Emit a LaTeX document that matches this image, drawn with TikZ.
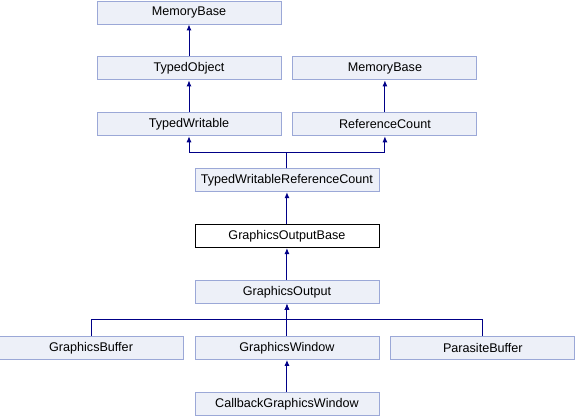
\documentclass[tikz,border=0pt]{standalone}
\usepackage{fontspec}
\setmainfont{Liberation Sans}
\usetikzlibrary{arrows.meta, positioning, calc}
\definecolor{boxfill}{RGB}{237,240,248}
\definecolor{boxline}{RGB}{155,168,215}
\definecolor{edgeblue}{RGB}{0,0,135}

\begin{document}
\begin{tikzpicture}[
  x=1pt, y=1pt,
  node distance=32pt and 11pt,
  cls/.style={draw=boxline, fill=boxfill, line width=0.9pt,
    minimum width=184pt, minimum height=23pt, inner sep=0pt,
    font=\fontsize{12.6}{14}\selectfont},
  focus/.style={cls, draw=black, fill=white},
  arr/.style={-{Latex[length=6pt,width=5pt]}, line width=1pt, edgeblue},
]
  \useasboundingbox (0,0) rectangle (575,-416);

  \node[cls] (mbA) at (189,-12.5) {MemoryBase};
  \node[cls, below=of mbA]  (tobj) {TypedObject};
  \node[cls, right=of tobj] (mbB)  {MemoryBase};
  \node[cls, below=of tobj] (tw)   {TypedWritable};
  \node[cls, below=of mbB]  (rc)   {ReferenceCount};
  \coordinate (mid) at ($(tw.south)!0.5!(rc.south)$);
  \node[cls, below=of mid]  (twrc) {TypedWritableReferenceCount};
  \node[focus, below=of twrc] (gob) {GraphicsOutputBase};
  \node[cls, below=of gob]  (gout) {GraphicsOutput};
  \node[cls, below=of gout] (gwin) {GraphicsWindow};
  \node[cls, left=of gwin]  (gbuf) {GraphicsBuffer};
  \node[cls, right=of gwin] (pbuf) {ParasiteBuffer};
  \node[cls, below=of gwin] (cbwin) {CallbackGraphicsWindow};

  \draw[arr] (tobj) -- (mbA);
  \draw[arr] (tw) -- (tobj);
  \draw[arr] (rc) -- (mbB);
  \draw[arr] (twrc.north) -- ++(0,16) -| (tw.south);
  \draw[arr] (twrc.north) -- ++(0,16) -| (rc.south);
  \draw[arr] (gob) -- (twrc);
  \draw[arr] (gout) -- (gob);
  \draw[arr] (gbuf.north) -- ++(0,16) -| (gout.south);
  \draw[arr] (gwin) -- (gout);
  \draw[arr] (pbuf.north) -- ++(0,16) -| (gout.south);
  \draw[arr] (cbwin) -- (gwin);
\end{tikzpicture}
\end{document}
